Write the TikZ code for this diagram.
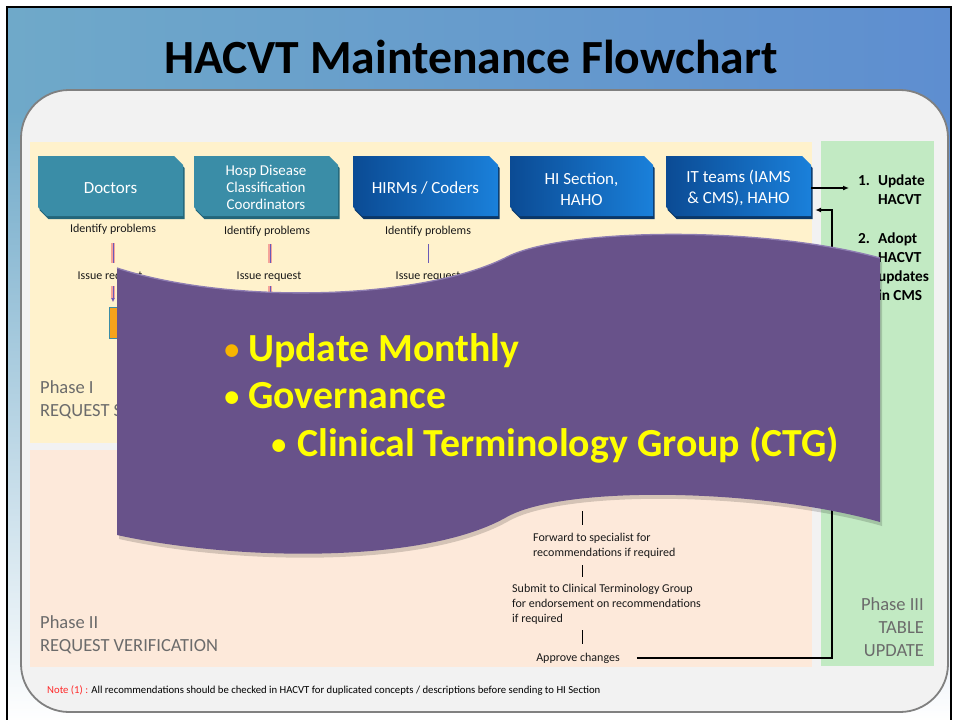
\documentclass[tikz,border=0pt]{standalone}
\usepackage{fontspec}
\setmainfont{Carlito}
\usetikzlibrary{arrows.meta,fadings,calc}
\definecolor{bgL}{HTML}{6FA9C9}
\definecolor{bgM}{HTML}{DDF3FA}
\definecolor{bgR}{HTML}{5E8ED0}
\definecolor{panel}{HTML}{F2F2F2}
\definecolor{panelbd}{HTML}{808080}
\definecolor{phaseA}{HTML}{FFF2CC}
\definecolor{phaseB}{HTML}{FDE9DA}
\definecolor{phaseC}{HTML}{C2EAC3}
\definecolor{tealbox}{HTML}{3A8DA7}
\definecolor{tealdk}{HTML}{23667A}
\definecolor{blueL}{HTML}{0B4B94}
\definecolor{blueR}{HTML}{1A80DA}
\definecolor{bluedk}{HTML}{0A3768}
\definecolor{wave}{HTML}{68528A}
\definecolor{wavehi}{HTML}{8E7DB2}
\definecolor{txtyellow}{HTML}{FFFF00}
\definecolor{bulorange}{HTML}{F7B500}
\definecolor{phasegray}{HTML}{6B6B6B}
\definecolor{notered}{HTML}{FF2A2A}
\definecolor{glowred}{HTML}{F28A8A}
\definecolor{flowpurple}{HTML}{6A5AB8}
\definecolor{orangebox}{HTML}{F6A21C}
\newcommand{\snipshape}[5]{\path[#1] (#2,#3) -- ({#4-9},#3) -- (#4,{#3+9}) -- (#4,#5) -- ({#2+9},#5) -- (#2,{#5-9}) -- cycle;}
\newcommand{\wavepath}{(117,268) .. controls (230,305) and (420,300) .. (505,258) .. controls (560,228) and (760,225) .. (880,258) -- (880,522) .. controls (760,488) and (560,485) .. (505,518) .. controls (420,565) and (230,560) .. (117,535) -- cycle}
\newcommand{\mybul}{{\fontsize{30}{30}\selectfont\raisebox{2pt}{•}}}
\begin{document}
\begin{tikzpicture}[x=1pt,y=-1pt,
  boxtxt/.style={text=white, align=center, minimum width=145pt, minimum height=60pt, inner sep=0pt},
  flowtxt/.style={font=\fontsize{12}{15}\selectfont, text=black!90, inner sep=0pt},
  phasetxt/.style={font=\fontsize{18.5}{23}\selectfont, text=phasegray, inner sep=0pt},
  sidetxt/.style={font=\bfseries\fontsize{15.3}{19}\selectfont, text=black, inner sep=0pt},
  wavetxt/.style={font=\bfseries\fontsize{39.8}{47}\selectfont, text=txtyellow, inner sep=0pt, anchor=base west},
  glowline/.style={draw=flowpurple, line width=0.9pt, preaction={draw=glowred, line width=4.5pt, draw opacity=.75}},
  thinline/.style={draw=flowpurple, line width=0.9pt},
  blackline/.style={draw=black, line width=1pt},
  arr/.style={draw=black, line width=1.2pt, -{Latex[length=6pt,width=5pt]}}
]
\useasboundingbox (0,0) rectangle (956,720);
\fill[white] (0,0) rectangle (956,720);
% background
\shade[left color=bgL, middle color=bgM, right color=bgR] (7,7) rectangle (951,720);
\fill[white, path fading=north] (7,110) rectangle (951,720);
\draw[black, line width=2pt] (7,721) -- (7,7) -- (951,7) -- (951,721);
% title
\node[anchor=base, inner sep=0, font=\bfseries\fontsize{47.6}{56}\selectfont] (title) at (471,73) {HACVT Maintenance Flowchart};
% panel
\draw[draw=panelbd, line width=1.8pt, fill=panel, rounded corners=48pt] (21,90) rectangle (948,712);
% phase regions
\fill[phaseA] (30,142) rectangle (812,443);
\fill[phaseB] (30,450) rectangle (812,667);
\fill[phaseC] (821,141) rectangle (934,666);
% boxes
\snipshape{fill=tealdk, shift={(1.5,3)}}{38}{156}{183}{216}
\snipshape{fill=tealbox}{38}{156}{183}{216}
\node[boxtxt, font=\fontsize{17}{20}\selectfont] (doc) at (110.5,188) {Doctors};
\snipshape{fill=tealdk, shift={(1.5,3)}}{194}{156}{338}{216}
\snipshape{fill=tealbox}{194}{156}{338}{216}
\node[boxtxt, font=\fontsize{15}{17}\selectfont] (hosp) at (266,187) {Hosp Disease\\Classification\\Coordinators};
\snipshape{fill=bluedk, shift={(1.5,3)}}{353}{156}{498}{216}
\snipshape{left color=blueL, right color=blueR}{353}{156}{498}{216}
\node[boxtxt, font=\fontsize{17}{20}\selectfont] (hirm) at (425.5,188) {HIRMs / Coders};
\snipshape{fill=bluedk, shift={(1.5,3)}}{510}{156}{653}{216}
\snipshape{left color=blueL, right color=blueR}{510}{156}{653}{216}
\node[boxtxt, font=\fontsize{17}{20.5}\selectfont] (hisec) at (581.5,189) {HI Section,\\HAHO};
\snipshape{fill=bluedk, shift={(1.5,3)}}{666}{156}{811}{216}
\snipshape{left color=blueL, right color=blueR}{666}{156}{811}{216}
\node[boxtxt, font=\fontsize{17}{20.5}\selectfont] (it) at (738.5,188) {IT teams (IAMS\\\& CMS), HAHO};
% phase I flow texts
\node[flowtxt, anchor=base] (id1) at (113,232) {Identify problems};
\node[flowtxt, anchor=base] (id2) at (267,234) {Identify problems};
\node[flowtxt, anchor=base] (id3) at (428,234) {Identify problems};
\node[flowtxt, anchor=base] (ir1) at (110,279) {Issue request};
\node[flowtxt, anchor=base] (ir2) at (269,279) {Issue request};
\node[flowtxt, anchor=base] (ir3) at (428,279) {Issue request};
\node[draw=tealbox, fill=orangebox, line width=0.8pt, minimum width=50pt, minimum height=31pt, inner sep=0, anchor=north west] (ob) at (109,307) {};
\draw[glowline, shorten <=9pt, shorten >=8pt] (id1.south) -- (id1.south |- ir1.north);
\draw[glowline, shorten <=8pt, shorten >=8pt] ([xshift=3pt]id2.south) -- ([xshift=3pt]id2.south |- ir2.north);
\draw[thinline, shorten <=8pt, shorten >=8pt] (id3.south) -- (id3.south |- ir3.north);
\draw[glowline, -{Latex[length=4pt,width=4pt]}, shorten <=5pt, shorten >=5pt] ([xshift=3pt]ir1.south) -- ([xshift=3pt]ir1.south |- ob.north);
\draw[glowline, shorten <=5pt] ([xshift=1pt]ir2.south) -- ++(0,16);
\draw[thinline, shorten <=5pt] (ir3.south) -- ++(0,16);
% phase II flow texts
\coordinate (spine) at (582,511);
\node[flowtxt, anchor=base west, align=left] (fwd) at (533,556) {Forward to specialist for\\recommendations if required};
\node[flowtxt, anchor=base west, align=left] (sub) at (512,622) {Submit to Clinical Terminology Group\\for endorsement on recommendations\\if required};
\node[flowtxt, anchor=base] (appr) at (578,661) {Approve changes};
\draw[blackline, shorten >=7pt] (spine) -- (spine |- fwd.north);
\draw[blackline, shorten <=7pt, shorten >=6pt] (spine |- fwd.south) -- (spine |- sub.north);
\draw[blackline, shorten <=6pt, shorten >=8pt] (spine |- sub.south) -- (spine |- appr.north);
% phase III texts
\node[sidetxt, anchor=base west] (upd) at (858,185) {\begin{tabular}[t]{@{}l@{\hspace{8pt}}l@{}}1.&Update\\&HACVT\end{tabular}};
\node[sidetxt, anchor=base west] (adopt) at (858,243) {\begin{tabular}[t]{@{}l@{\hspace{8pt}}l@{}}2.&Adopt\\&HACVT\\&updates\\&in CMS\end{tabular}};
% connectors right
\coordinate (rail) at (832,400);
\coordinate (itin) at ([yshift=-22pt]it.east);
\draw[arr, shorten >=9pt] (it.east) -- (it.east -| upd.west);
\draw[arr, line width=1.5pt] ([xshift=17pt]appr.east) -- (appr.east -| rail) -- (itin -| rail) -- ([xshift=4pt]itin);
% phase labels
\node[phasetxt, anchor=west, align=left] (ph1) at (40,400) {Phase I\\REQUEST SUBMISSION};
\node[phasetxt, anchor=west, align=left] (ph2) at (40,635) {Phase II\\REQUEST VERIFICATION};
\node[phasetxt, anchor=east, align=right] (ph3) at (924,627) {Phase III\\TABLE\\UPDATE};
% note
\node[anchor=base west, inner sep=0, font=\fontsize{10.7}{12}\selectfont] (note) at (47,693) {\textcolor{notered}{Note (1) :} All recommendations should be checked in HACVT for duplicated concepts / descriptions before sending to HI Section};
% wave banner
\fill[black, opacity=.16, shift={(2,4)}] \wavepath;
\fill[wave] \wavepath;
\draw[wavehi, line width=1.3pt] (117,268) .. controls (230,305) and (420,300) .. (505,258) .. controls (560,228) and (760,225) .. (880,258);
\node[wavetxt] (b1) at (248,361) {\llap{\textcolor{bulorange}{\mybul}\hspace{9pt}}Update Monthly};
\node[wavetxt] (b2) at (248,408) {\llap{\mybul\hspace{9pt}}Governance};
\node[wavetxt] (b3) at (297,456) {\llap{\mybul\hspace{11pt}}Clinical Terminology Group (CTG)};
\end{tikzpicture}
\end{document}
